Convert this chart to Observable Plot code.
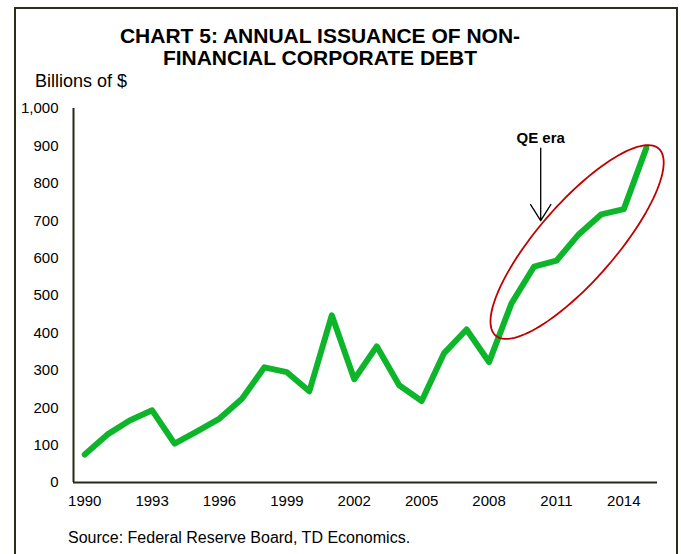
<!DOCTYPE html>
<html>
<head>
<meta charset="utf-8">
<script src="https://cdn.jsdelivr.net/npm/d3@7"></script>
<script src="https://cdn.jsdelivr.net/npm/@observablehq/plot@0.6"></script>
<style>
  html, body { margin: 0; padding: 0; background: #fff; }
  #wrap { position: relative; width: 681px; height: 554px; overflow: hidden; background: #fff;
          font-family: "Liberation Sans", Arial, sans-serif; color: #000; }
  #frame { position: absolute; left: 14px; top: 7px; width: 664px; height: 600px;
           border: 2px solid #2b2d1d; box-sizing: border-box; pointer-events: none; }
  #title { position: absolute; left: 0; width: 640px; top: 25px; text-align: center;
           font-weight: bold; font-size: 21px; line-height: 22px; }
  #ylabel { position: absolute; left: 35px; top: 73px; font-size: 18px; line-height: 16px; white-space: nowrap; }
  #chart { position: absolute; left: 0; top: 95px; }
  #caption { position: absolute; left: 68px; top: 530px; font-size: 16px; line-height: 16px; white-space: nowrap; }
</style>
</head>
<body>
<div id="wrap">
  <div id="frame"></div>
  <div id="title">CHART 5: ANNUAL ISSUANCE OF NON-<br>FINANCIAL CORPORATE DEBT</div>
  <div id="ylabel">Billions of $</div>
  <div id="chart"></div>
  <div id="caption">Source: Federal Reserve Board, TD Economics.</div>
</div>
<script>
// ---- Data ----
const years = [1990, 1991, 1992, 1993, 1994, 1995, 1996, 1997, 1998, 1999, 2000, 2001, 2002,
               2003, 2004, 2005, 2006, 2007, 2008, 2009, 2010, 2011, 2012, 2013, 2014, 2015];
const issuance = [75, 128, 166, 193, 104, 137, 171, 224, 308, 295, 244, 447, 276,
                  364, 260, 218, 346, 409, 322, 479, 577, 593, 664, 717, 731, 894];
const xTickLabels = [1990, 1993, 1996, 1999, 2002, 2005, 2008, 2011, 2014];
const yTickLabels = [0, 100, 200, 300, 400, 500, 600, 700, 800, 900, 1000];
const xDomain = [1989.5, 2015.5];
const yDomain = [0, 1000];

// Annotation (in data units)
const annotationLabel = ["QE era"];
const annotationYear = [2010.3];
const annotationLabelValue = [921];
const arrowValues = [894, 700];
const ellipseCenter = [2011.92, 643];
const ellipseMajor = [3.63, 250];
const ellipseMinor = [1.3, -68];

// ---- Build tables ----
const series = years.map((y, i) => ({year: y, value: issuance[i]}));
const ellipse = d3.range(0, 361, 3).map(a => {
  const t = a * Math.PI / 180;
  return {
    x: ellipseCenter[0] + Math.cos(t) * ellipseMajor[0] + Math.sin(t) * ellipseMinor[0],
    y: ellipseCenter[1] + Math.cos(t) * ellipseMajor[1] + Math.sin(t) * ellipseMinor[1]
  };
});
const arrowData = [{x: annotationYear[0], y1: arrowValues[0], y2: arrowValues[1]}];
const labelData = [{x: annotationYear[0], y: annotationLabelValue[0], text: annotationLabel[0]}];

const axisColor = "#262a1a";

const chart = Plot.plot({
  width: 681,
  height: 420,
  marginLeft: 73,
  marginRight: 24,
  marginTop: 13,
  marginBottom: 33,
  style: {fontFamily: "'Liberation Sans', Arial, sans-serif", fontSize: "15px", color: "#000", background: "transparent"},
  x: {type: "linear", domain: xDomain},
  y: {domain: yDomain},
  marks: [
    Plot.axisX(xTickLabels, {tickSize: 0, tickPadding: 13, tickFormat: d => String(d), label: null, fontSize: 15}),
    Plot.axisY(yTickLabels, {tickSize: 0, tickPadding: 15, tickFormat: d3.format(","), label: null, fontSize: 15}),
    Plot.ruleY([yDomain[0]], {stroke: axisColor, strokeWidth: 2}),
    Plot.ruleX([xDomain[0]], {y1: yDomain[0], y2: yDomain[1], stroke: axisColor, strokeWidth: 2}),
    Plot.line(series, {x: "year", y: "value", stroke: "#0db52b", strokeWidth: 6,
                       strokeLinejoin: "round", strokeLinecap: "round"}),
    Plot.line(ellipse, {x: "x", y: "y", stroke: "#c00000", strokeWidth: 1.8, curve: "linear"}),
    Plot.arrow(arrowData, {x1: "x", x2: "x", y1: "y1", y2: "y2", stroke: "#000",
                           strokeWidth: 1.3, headLength: 22, headAngle: 64}),
    Plot.text(labelData, {x: "x", y: "y", text: "text", fontWeight: "bold", fontSize: 15, fill: "#000"})
  ]
});
document.getElementById("chart").appendChild(chart);
</script>
</body>
</html>
